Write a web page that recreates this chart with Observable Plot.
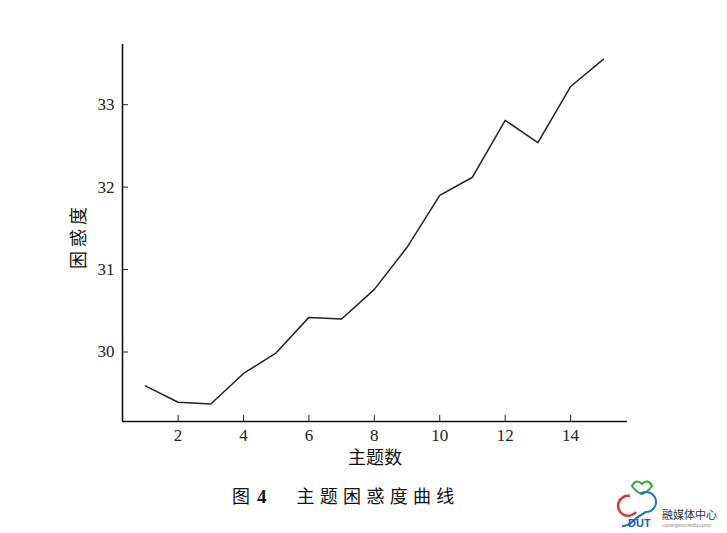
<!DOCTYPE html>
<html>
<head>
<meta charset="utf-8">
<script src="https://cdn.jsdelivr.net/npm/d3@7"></script>
<script src="https://cdn.jsdelivr.net/npm/@observablehq/plot@0.6"></script>
<style>
  body { margin: 0; background: #fff; }
  #wrap { position: relative; width: 727px; height: 533px; }
  #caption { position: absolute; left: 232px; top: 482px; white-space: nowrap;
    font-family: "Noto Sans CJK SC", sans-serif; font-size: 18px; color: #111; }
  #caption .t { letter-spacing: 5.3px; }
  #caption b { font-family: "Liberation Serif", serif; font-size: 19px; margin-left: 7px; margin-right: 30px; }
  #logo { position: absolute; left: 608px; top: 474px; font-family: "Noto Sans CJK SC", sans-serif; }
</style>
</head>
<body>
<div id="wrap">
  <div id="chart"></div>
  <div id="caption">图<b>4</b><span class="t">主题困惑度曲线</span></div>
  <div id="logo">
    <svg width="119" height="58">
      <path d="M24,12 q4,-8 10,-2 q6,-6 10,2 q-4,6 -10,8 q-6,-2 -10,-8z" fill="none" stroke="#3aa53a" stroke-width="2"/>
      <path d="M22,22 a10,10 0 1 0 6,16" fill="none" stroke="#d33" stroke-width="2.5"/>
      <path d="M32,20 a10,10 0 1 1 6,18 q-8,4 -14,10 q-4,4 -10,4" fill="none" stroke="#2a6fc0" stroke-width="2"/>
      <text x="20" y="53" font-size="11" font-weight="bold" fill="#1d5fae" font-family="Liberation Sans">DUT</text>
      <text x="54" y="45" font-size="11" fill="#333">融媒体中心</text>
      <text x="54" y="53" font-size="4" fill="#777">Convergence Media Center</text>
    </svg>
  </div>
</div>
<script>
const topics = [1, 2, 3, 4, 5, 6, 7, 8, 9, 10, 11, 12, 13, 14, 15];
const perplexity = [29.59, 29.39, 29.37, 29.74, 29.99, 30.42, 30.40, 30.76, 31.27, 31.90, 32.12, 32.81, 32.54, 33.22, 33.55];
const xTicks = [2, 4, 6, 8, 10, 12, 14];
const yTicks = [30, 31, 32, 33];
const xDomain = [0.3, 15.74];
const yDomain = [29.157, 33.73];

const data = topics.map((t, i) => ({t, p: perplexity[i]}));

const chart = Plot.plot({
  width: 727,
  height: 470,
  marginLeft: 122,
  marginRight: 100,
  marginTop: 44,
  marginBottom: 49,
  style: {fontFamily: "Liberation Serif, serif", fontSize: "16px", color: "#222", background: "#fff"},
  x: {domain: xDomain, ticks: xTicks},
  y: {domain: yDomain, ticks: yTicks},
  marks: [
    Plot.axisX({ticks: xTicks, tickSize: -6, tickPadding: 13, tickFormat: d => d, label: null, fontSize: 17}),
    Plot.axisY({ticks: yTicks, tickSize: -6, tickPadding: 14, tickFormat: d => d, label: null, fontSize: 17}),
    Plot.ruleX([xDomain[0]], {stroke: "#111", strokeWidth: 1.6}),
    Plot.ruleY([yDomain[0]], {stroke: "#111", strokeWidth: 1.6}),
    Plot.line(data, {x: "t", y: "p", stroke: "#222", strokeWidth: 1.5}),
    Plot.text(["主题数"], {frameAnchor: "bottom", dy: 42, text: d => d, fontSize: 18, fontWeight: "normal", fontFamily: "Noto Sans CJK SC", fill: "#111"}),
    Plot.text(["困惑度"], {frameAnchor: "left", textAnchor: "middle", dx: -43, dy: 3, rotate: -90, text: d => d, fontSize: 18, fontWeight: "normal", fontFamily: "Noto Sans CJK SC", fill: "#111", className: "ylab"})
  ]
});
d3.select(chart).selectAll(".ylab text").attr("letter-spacing", "4px");
document.getElementById("chart").appendChild(chart);
</script>
</body>
</html>
